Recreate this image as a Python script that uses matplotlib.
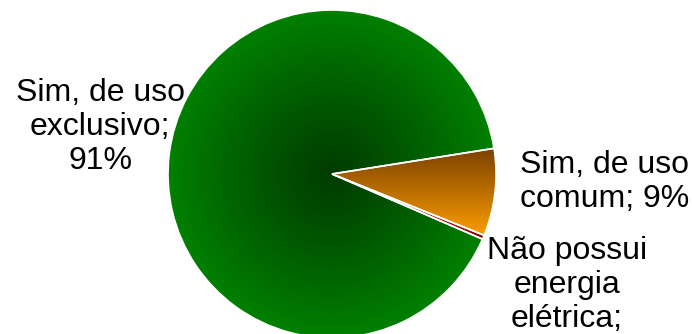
import numpy as np
import matplotlib.pyplot as plt
from matplotlib.colors import to_rgb

# dados do gráfico
labels = ["Sim, de uso\nexclusivo;\n91%", "Sim, de uso\ncomum; 9%", "Não possui\nenergia\nelétrica;\n0%"]
values = [91.0, 8.6, 0.4]
explode = [0, 0.06, 0.03]

W, H = 692, 334
cx, cy, r = 332, 160, 164

fig = plt.figure(figsize=(W / 100, H / 100), dpi=100)
ax = fig.add_axes([0, 0, 1, 1])

wedges, _ = ax.pie(values, explode=explode, startangle=336.6, counterclock=False,
                   center=(cx, cy), radius=r,
                   wedgeprops=dict(edgecolor='white', linewidth=1.2))
ax.set_xlim(0, W)
ax.set_ylim(0, H)
ax.set_aspect('equal')
ax.axis('off')

X, Y = np.meshgrid(np.arange(W) + 0.5, np.arange(H) + 0.5)


def blend(c0, c1, t):
    c0 = np.array(to_rgb(c0))
    c1 = np.array(to_rgb(c1))
    t = np.clip(t, 0, 1)[..., None]
    return c0 + (c1 - c0) * t


# gradiente radial no verde
d = np.sqrt((X - cx) ** 2 + (Y - cy) ** 2) / r
green = blend('#003c00', '#008000', d ** 1.1)
# gradiente vertical no laranja e vermelho
t_or = (187 - Y) / (187 - 96)
orange = blend('#7a4000', '#ffa000', t_or)
red = blend('#ff5050', '#800000', (X - cx) / 150)

for wedge, img in zip(wedges, [green, orange, red]):
    im = ax.imshow(img, origin='lower', extent=(0, W, 0, H), zorder=1, interpolation='bilinear')
    im.set_clip_path(wedge)
    wedge.set_facecolor('none')
    wedge.set_zorder(2)

font = dict(family='Liberation Sans', size=23, ha='center', linespacing=1.17, color='black')
ax.text(100, 207, labels[0], va='center', **font)
ax.text(605, 152, labels[1], va='center', **font)
ax.text(567, 98, labels[2], va='top', **font)

fig.savefig('out.png', dpi=100)
